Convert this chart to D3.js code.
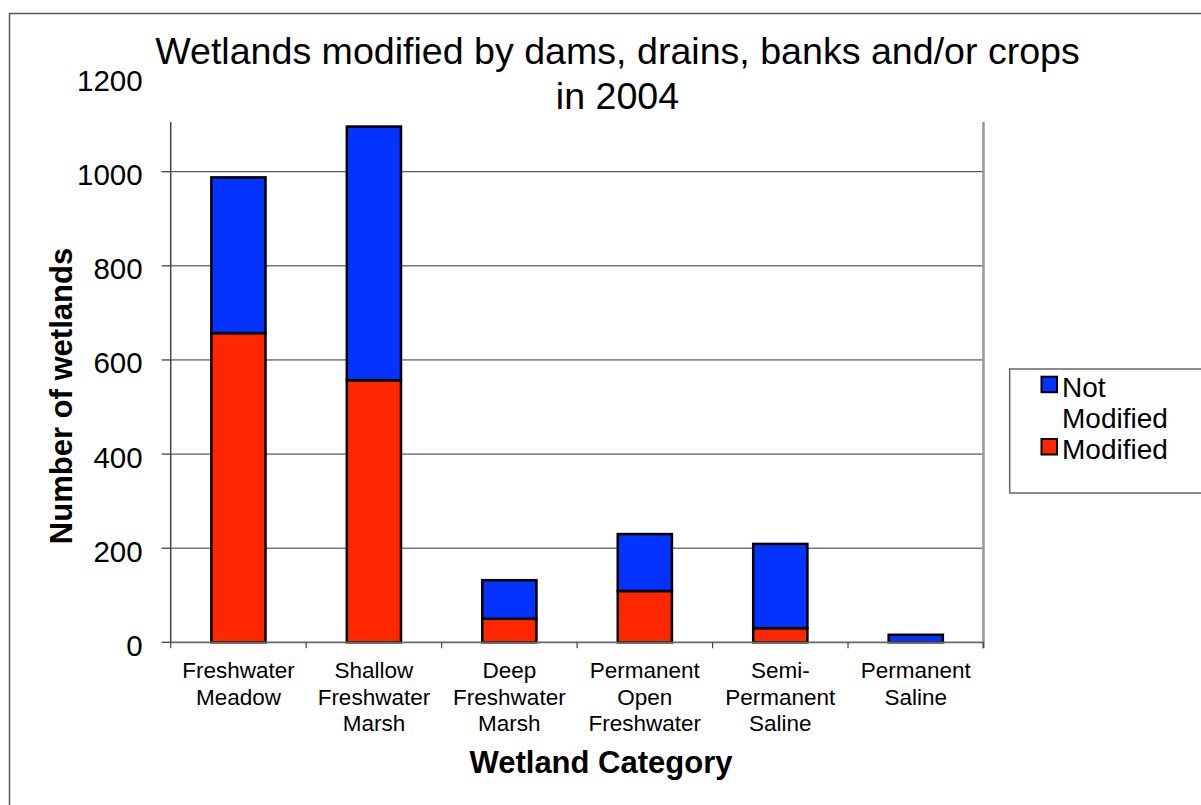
<!DOCTYPE html>
<html>
<head>
<meta charset="utf-8">
<script src="https://cdn.jsdelivr.net/npm/d3@7/dist/d3.min.js"></script>
<style>
  html, body { margin: 0; padding: 0; background: #fff; }
  svg { display: block; font-family: "Liberation Sans", Arial, Helvetica, sans-serif; }
</style>
</head>
<body>
<svg id="chart" width="1201" height="805"></svg>
<script>
// Wetland categories (x-axis), each split over two lines
const categories = [
  ["Freshwater", "Meadow"],
  ["Shallow", "Freshwater", "Marsh"],
  ["Deep", "Freshwater", "Marsh"],
  ["Permanent", "Open", "Freshwater"],
  ["Semi-", "Permanent", "Saline"],
  ["Permanent", "Saline"]
];
// Number of wetlands per category
const modified    = [657, 557, 50, 109, 30, 0];
const notModified = [331, 539, 82, 121, 179, 16];
const yTicks = [0, 200, 400, 600, 800, 1000, 1200];
const seriesNames = ["Modified", "Not Modified"];
const seriesColors = { "Modified": "#ff2600", "Not Modified": "#0433ff" };

const svg = d3.select("#chart");

// Plot geometry
const left = 170.7, right = 983.5, bottom = 642.3, plotTop = 122;

const keys = categories.map(c => c.join(" "));
const rows = keys.map((k, i) => ({ cat: k, "Modified": modified[i], "Not Modified": notModified[i] }));

const x = d3.scaleBand().domain(keys).range([left, right]).paddingInner(0.6).paddingOuter(0.3);
const y = d3.scaleLinear().domain([0, 1200]).range([bottom, 77.6]);
const step = x.step();

// Outer chart frame
svg.append("rect").attr("x", 9.5).attr("y", 13.5).attr("width", 1300).attr("height", 900)
  .attr("fill", "none").attr("stroke", "#555").attr("stroke-width", 1.5);

// Horizontal gridlines
svg.append("g").selectAll("line").data(yTicks.filter(t => t > 0 && y(t) >= plotTop))
  .join("line")
  .attr("x1", left).attr("x2", right)
  .attr("y1", d => y(d)).attr("y2", d => y(d))
  .attr("stroke", "#333").attr("stroke-width", 1);

// Right edge of the plot area
svg.append("line").attr("x1", right).attr("x2", right).attr("y1", plotTop).attr("y2", bottom + 6)
  .attr("stroke", "#999").attr("stroke-width", 2.5);

// Y axis
const yAxis = d3.axisLeft(y).tickValues(yTicks).tickFormat(d3.format("d")).tickSize(0).tickPadding(28);
const gy = svg.append("g").attr("transform", `translate(${left},0)`).call(yAxis);
gy.select(".domain").remove();
gy.selectAll("text").attr("font-size", 29.5).attr("fill", "#000")
  .attr("font-family", "Liberation Sans, Arial, sans-serif").attr("dy", "0.44em");
svg.append("g").selectAll("line").data(yTicks.filter(t => y(t) >= plotTop))
  .join("line")
  .attr("x1", left - 9).attr("x2", left)
  .attr("y1", d => y(d)).attr("y2", d => y(d))
  .attr("stroke", "#333").attr("stroke-width", 1.2);
svg.append("line").attr("x1", left).attr("x2", left).attr("y1", plotTop).attr("y2", bottom)
  .attr("stroke", "#444").attr("stroke-width", 1.5);

// Stacked bars
const stacked = d3.stack().keys(seriesNames)(rows);
svg.append("g").selectAll("g").data(stacked).join("g")
  .attr("fill", d => seriesColors[d.key])
  .selectAll("rect").data(d => d.filter(p => p[1] - p[0] > 0)).join("rect")
  .attr("x", d => x(d.data.cat))
  .attr("width", x.bandwidth())
  .attr("y", d => y(d[1]))
  .attr("height", d => y(d[0]) - y(d[1]))
  .attr("stroke", "#000").attr("stroke-width", 2.5);

// X axis line and category boundary ticks
svg.append("line").attr("x1", left).attr("x2", right).attr("y1", bottom).attr("y2", bottom)
  .attr("stroke", "#666").attr("stroke-width", 1.8);
svg.append("g").selectAll("line").data(d3.range(keys.length + 1))
  .join("line")
  .attr("x1", i => left + i * step).attr("x2", i => left + i * step)
  .attr("y1", bottom).attr("y2", bottom + 6)
  .attr("stroke", "#444").attr("stroke-width", 1.2);

// Category labels
const lab = svg.append("g").selectAll("text").data(categories).join("text")
  .attr("text-anchor", "middle").attr("font-size", 22.5).attr("fill", "#000")
  .attr("transform", (d, i) => `translate(${x(keys[i]) + x.bandwidth() / 2},678)`);
lab.selectAll("tspan").data(d => d).join("tspan")
  .attr("x", 0).attr("y", (d, j) => j * 26.7).text(d => d);

// Title
const title = svg.append("text").attr("text-anchor", "middle").attr("font-size", 37.6).attr("fill", "#000")
  .attr("transform", "translate(617.5,64)");
title.append("tspan").attr("x", 0).attr("y", 0).text("Wetlands modified by dams, drains, banks and/or crops");
title.append("tspan").attr("x", 0).attr("y", 45).text("in 2004");

// Axis titles
svg.append("text").attr("text-anchor", "middle").attr("font-size", 31).attr("font-weight", "bold")
  .attr("x", 601).attr("y", 773).text("Wetland Category");
svg.append("text").attr("text-anchor", "middle").attr("font-size", 31).attr("font-weight", "bold")
  .attr("transform", "translate(72,396) rotate(-90)").text("Number of wetlands");

// Legend
const lg = svg.append("g");
lg.append("rect").attr("x", 1009.7).attr("y", 369).attr("width", 240).attr("height", 124)
  .attr("fill", "#fff").attr("stroke", "#666").attr("stroke-width", 1.5);
const legendItems = [
  { key: "Not Modified", lines: ["Not", "Modified"], y: 376.7 },
  { key: "Modified", lines: ["Modified"], y: 439 }
];
legendItems.forEach(it => {
  lg.append("rect").attr("x", 1041.5).attr("y", it.y).attr("width", 15.5).attr("height", 15.5)
    .attr("fill", seriesColors[it.key]).attr("stroke", "#000").attr("stroke-width", 2);
  const t = lg.append("text").attr("font-size", 28).attr("fill", "#000");
  it.lines.forEach((ln, j) => t.append("tspan").attr("x", 1062).attr("y", it.y + 20 + j * 31.6).text(ln));
});
</script>
</body>
</html>
